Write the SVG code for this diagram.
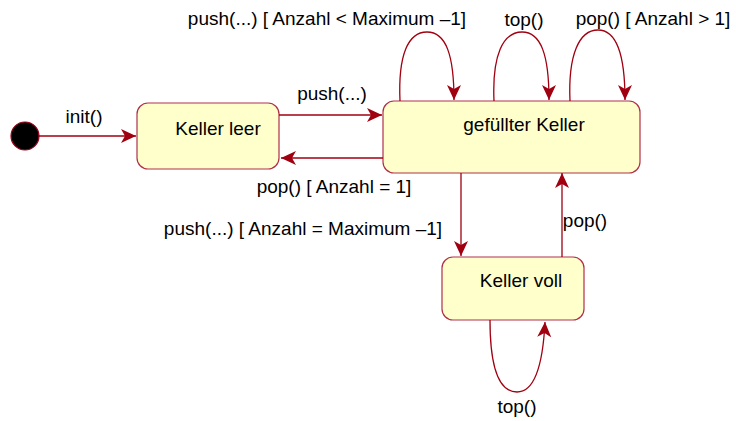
<svg xmlns="http://www.w3.org/2000/svg" width="736" height="421" viewBox="0 0 736 421">
<style>
.state{fill:#ffffcc;stroke:#b0304a;stroke-width:1.2}
.lbl{font-family:"Liberation Sans",Arial,sans-serif;font-size:19px;fill:#000}
.edge{fill:none;stroke:#a00010;stroke-width:1.3}
</style>
<defs>
<marker id="ah" markerUnits="userSpaceOnUse" markerWidth="18" markerHeight="16" refX="15" refY="7" orient="auto">
<path d="M0,0 L15,7 L0,14 L4,7 Z" fill="#a00010"/>
</marker>
</defs>
<g id="initial">
<circle cx="25" cy="136" r="14" fill="#000" stroke="#a00020" stroke-width="1.2"/>
</g>
<g id="keller-leer">
<rect class="state" x="137" y="103" width="142" height="66" rx="11"/>
<text class="lbl" x="218" y="135" text-anchor="middle">Keller leer</text>
</g>
<g id="gefuellter-keller">
<rect class="state" x="383" y="101" width="257" height="72" rx="11"/>
<text class="lbl" x="524" y="131" text-anchor="middle">gefüllter Keller</text>
</g>
<g id="keller-voll">
<rect class="state" x="442" y="257" width="142" height="63" rx="11"/>
<text class="lbl" x="521" y="287" text-anchor="middle">Keller voll</text>
</g>
<g id="connectors">
<path class="edge" d="M39,136 L136,136" marker-end="url(#ah)"/>
<text class="lbl" x="84" y="123" text-anchor="middle">init()</text>
<path class="edge" d="M279,115 L382,115" marker-end="url(#ah)"/>
<text class="lbl" x="332" y="100" text-anchor="middle">push(...)</text>
<path class="edge" d="M383,158 L281,158" marker-end="url(#ah)"/>
<text class="lbl" x="334" y="193" text-anchor="middle">pop() [ Anzahl = 1]</text>
<path class="edge" d="M461,173 L461,256" marker-end="url(#ah)"/>
<text class="lbl" x="303" y="235" text-anchor="middle">push(...) [ Anzahl = Maximum –1]</text>
<path class="edge" d="M562,257 L562,173" marker-end="url(#ah)"/>
<text class="lbl" x="585" y="227" text-anchor="middle">pop()</text>
<path class="edge" d="M400,101 C398,55 408,32 427,32 C446,32 454,55 454,100" marker-end="url(#ah)"/>
<text class="lbl" x="327" y="25" text-anchor="middle">push(...) [ Anzahl &lt; Maximum –1]</text>
<path class="edge" d="M494,101 C492,55 503,32 522,32 C541,32 549,55 549,100" marker-end="url(#ah)"/>
<text class="lbl" x="524" y="26" text-anchor="middle">top()</text>
<path class="edge" d="M570,101 C568,55 579,30 598,30 C617,30 625,55 625,100" marker-end="url(#ah)"/>
<text class="lbl" x="653" y="25" text-anchor="middle">pop() [ Anzahl &gt; 1]</text>
<path class="edge" d="M490,320 C490,370 500,392 517,392 C535,392 543,362 545,322" marker-end="url(#ah)"/>
<text class="lbl" x="517" y="413" text-anchor="middle">top()</text>
</g>
</svg>
